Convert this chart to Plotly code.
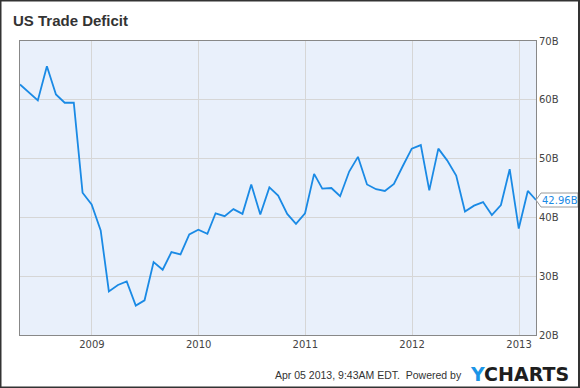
import pandas as pd
import plotly.graph_objects as go

# ---- data ----
start_month = "2008-05-01"
values_b = [
    62.6, 61.2, 59.9, 65.7, 60.9, 59.5, 59.5, 44.2, 42.2,
    37.8, 27.4, 28.5, 29.1, 25.0, 25.9, 32.4, 31.1, 34.1, 33.7, 37.1, 37.9,
    37.2, 40.7, 40.2, 41.4, 40.6, 45.6, 40.5, 45.1, 43.7, 40.6, 38.9, 40.7,
    47.4, 44.9, 45.0, 43.6, 47.8, 50.3, 45.6, 44.8, 44.5, 45.7, 48.7, 51.7,
    52.3, 44.6, 51.7, 49.7, 47.1, 41.0, 42.0, 42.6, 40.4, 42.1, 48.2, 38.1,
    44.5, 42.96,
]
dates = pd.date_range(start_month, periods=len(values_b), freq="MS") - pd.Timedelta(days=1)
year_ticks = ["2009", "2010", "2011", "2012", "2013"]
y_ticks = [20, 30, 40, 50, 60, 70]
title_text = "US Trade Deficit"
footer_text = "Apr 05 2013, 9:43AM EDT.&nbsp; Powered by"

# ---- layout geometry ----
W, H = 580, 388
ML, MR, MT, MB = 20, 44, 41, 53
PW, PH = W - ML - MR, H - MT - MB


def px_x(px):
    return (px - ML) / PW


def px_y(py):
    return 1 - (py - MT) / PH


LINE = "#1a8ae5"
fig = go.Figure()
fig.add_trace(go.Scatter(
    x=dates, y=values_b, mode="lines",
    line=dict(color=LINE, width=1.8), hoverinfo="skip",
))

last = values_b[-1]
b_per_px = 50 / PH
half = 7 * b_per_px
# value tag with pointer
fig.add_shape(
    type="path", xref="paper", yref="y", layer="above",
    path=(f"M {px_x(536)} {last} L {px_x(541)} {last + half} L {px_x(578)} {last + half} "
          f"L {px_x(578)} {last - half} L {px_x(541)} {last - half} Z"),
    line=dict(color="#9a9a9a", width=1), fillcolor="white",
)
fig.add_annotation(
    x=px_x(540), y=last, xref="paper", yref="y", xanchor="left", yanchor="middle",
    text=f"{last:.2f}B", showarrow=False,
    font=dict(family="DejaVu Sans", size=10, color=LINE),
)

# outer frame
fig.add_shape(
    type="rect", xref="paper", yref="paper",
    x0=px_x(0.5), x1=px_x(579), y0=px_y(387.5), y1=px_y(0.5),
    line=dict(color="#333333", width=2), fillcolor="rgba(0,0,0,0)", layer="above",
)

fig.add_annotation(
    x=px_x(11), y=px_y(20.5), xref="paper", yref="paper", xanchor="left", yanchor="middle",
    text=f"<b>{title_text}</b>", showarrow=False,
    font=dict(family="Liberation Sans", size=15, color="#333333"),
)
fig.add_annotation(
    x=px_x(464), y=px_y(375), xref="paper", yref="paper", xanchor="right", yanchor="middle",
    text=footer_text, showarrow=False,
    font=dict(family="Liberation Sans", size=10.5, color="#333333"),
)
fig.add_annotation(
    x=px_x(571), y=px_y(374), xref="paper", yref="paper", xanchor="right", yanchor="middle",
    text="<b><span style='color:#1b95e6'>Y</span>CHARTS</b>", showarrow=False,
    font=dict(family="DejaVu Sans", size=19, color="#1e1e1e"),
)

fig.update_layout(
    width=W, height=H,
    margin=dict(l=ML, r=MR, t=MT, b=MB, pad=0),
    paper_bgcolor="white", plot_bgcolor="#e9f0fb",
    showlegend=False,
    font=dict(family="DejaVu Sans", size=10, color="#444444"),
)
fig.update_xaxes(
    range=[dates[0], dates[-1]],
    tickvals=[f"{y}-01-01" for y in year_ticks], ticktext=year_ticks,
    showgrid=True, gridcolor="#d6d6d6", gridwidth=1,
    showline=True, linecolor="#888888", linewidth=1, mirror=True,
    ticks="", zeroline=False, fixedrange=True,
    tickfont=dict(family="DejaVu Sans", size=10, color="#444444"),
)
fig.update_yaxes(
    range=[20, 70], side="right",
    tickvals=y_ticks, ticktext=[f"{v}B" for v in y_ticks],
    showgrid=True, gridcolor="#d6d6d6", gridwidth=1,
    showline=True, linecolor="#888888", linewidth=1, mirror=True,
    ticks="", zeroline=False, fixedrange=True,
    tickfont=dict(family="DejaVu Sans", size=10, color="#444444"),
)

fig.write_html(
    "out.html",
    config={"displayModeBar": False},
    post_script="document.body.style.margin='0';document.body.style.overflow='hidden';",
)
